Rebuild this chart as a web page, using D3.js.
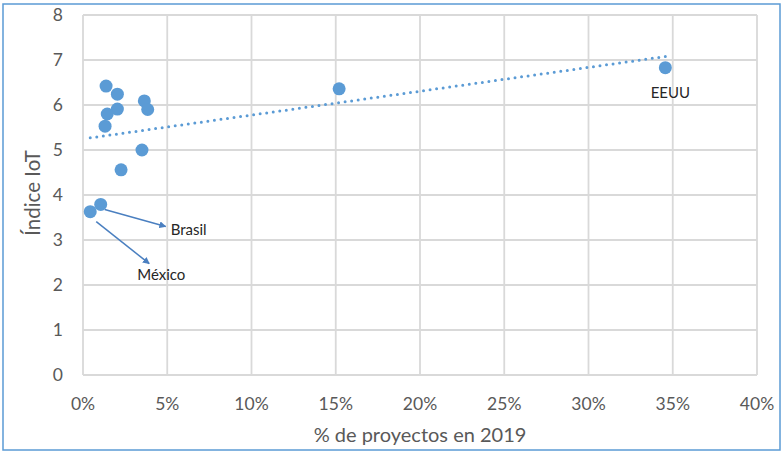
<!DOCTYPE html>
<html>
<head>
<meta charset="utf-8">
<script src="https://d3js.org/d3.v7.min.js"></script>
<style>
  body { margin: 0; background: #fff; }
  text { font-family: Lato, "Liberation Sans", sans-serif; }
</style>
</head>
<body>
<script>
// data
var names   = ["", "", "", "", "", "", "", "", "", "Brasil", "México", "", "EEUU"];
var pctProj = [1.37, 2.04, 3.64, 3.84, 2.04, 1.44, 1.31, 3.50, 2.26, 1.05, 0.43, 15.2, 34.56];
var iotIdx  = [6.42, 6.24, 6.09, 5.90, 5.91, 5.80, 5.53, 5.00, 4.56, 3.79, 3.63, 6.36, 6.83];
var xTicks  = [0, 5, 10, 15, 20, 25, 30, 35, 40];
var yTicks  = [0, 1, 2, 3, 4, 5, 6, 7, 8];

// label placement (pixel offsets from the point)
var labelStyle = {
  "Brasil": { arrow: [4, 5, 65, 22], text: [70, 31] },
  "México": { arrow: [6, 10, 59, 52], text: [47, 68] },
  "EEUU":   { arrow: null, text: [5, 30], anchor: "middle" }
};

var W = 784, H = 452;
var blue = "#5b9bd5", grid = "#d9d9d9", ink = "#595959";

var svg = d3.select("body").append("svg")
    .attr("width", W)
    .attr("height", H);

svg.append("defs").append("marker")
    .attr("id", "arr")
    .attr("viewBox", "0 0 10 10")
    .attr("refX", 9).attr("refY", 5)
    .attr("markerWidth", 7).attr("markerHeight", 7)
    .attr("markerUnits", "userSpaceOnUse")
    .attr("orient", "auto")
    .append("path")
    .attr("d", "M0,0 L10,5 L0,10 z")
    .attr("fill", "#4a7fc0");

// outer frame
svg.append("rect")
    .attr("x", 3).attr("y", 4)
    .attr("width", 777).attr("height", 446)
    .attr("fill", "none")
    .attr("stroke", blue)
    .attr("stroke-width", 1.5);

var x = d3.scaleLinear().domain([0, 40]).range([83, 757]);
var y = d3.scaleLinear().domain([0, 8]).range([375, 15]);

var data = pctProj.map(function(v, i) {
    return { name: names[i], x: v, y: iotIdx[i] };
});

// gridlines
svg.append("g").selectAll("line.v")
    .data(xTicks).enter().append("line")
    .attr("x1", d => x(d)).attr("x2", d => x(d))
    .attr("y1", y(0)).attr("y2", y(8))
    .attr("stroke", grid).attr("stroke-width", 1.8);

svg.append("g").selectAll("line.h")
    .data(yTicks).enter().append("line")
    .attr("x1", x(0)).attr("x2", x(40))
    .attr("y1", d => y(d)).attr("y2", d => y(d))
    .attr("stroke", grid).attr("stroke-width", 1.8);

// tick labels
svg.append("g").selectAll("text")
    .data(xTicks).enter().append("text")
    .attr("x", d => x(d))
    .attr("y", 404)
    .attr("dy", "0.35em")
    .attr("text-anchor", "middle")
    .attr("fill", ink)
    .style("font-size", "17.5px")
    .text(d => d + "%");

svg.append("g").selectAll("text")
    .data(yTicks).enter().append("text")
    .attr("x", 63)
    .attr("y", d => y(d))
    .attr("dy", "0.35em")
    .attr("text-anchor", "end")
    .attr("fill", ink)
    .style("font-size", "17.5px")
    .text(d => d);

// axis titles
svg.append("text")
    .attr("x", 420).attr("y", 435)
    .attr("dy", "0.35em")
    .attr("text-anchor", "middle")
    .attr("fill", ink)
    .style("font-size", "20px")
    .text("% de proyectos en 2019");

svg.append("text")
    .attr("transform", "translate(33,193) rotate(-90)")
    .attr("dy", "0.35em")
    .attr("text-anchor", "middle")
    .attr("fill", ink)
    .style("font-size", "20.5px")
    .text("Índice IoT");

// linear trendline (least squares)
var mx = d3.mean(data, d => d.x), my = d3.mean(data, d => d.y);
var sxy = d3.sum(data, d => (d.x - mx) * (d.y - my));
var sxx = d3.sum(data, d => (d.x - mx) * (d.x - mx));
var slope = sxy / sxx, icpt = my - slope * mx;
var ext = d3.extent(data, d => d.x);

svg.append("line")
    .attr("x1", x(ext[0])).attr("y1", y(icpt + slope * ext[0]))
    .attr("x2", x(ext[1])).attr("y2", y(icpt + slope * ext[1]))
    .attr("stroke", blue)
    .attr("stroke-width", 3)
    .attr("stroke-linecap", "round")
    .attr("stroke-dasharray", "0,6.6");

// points
svg.append("g").selectAll("circle")
    .data(data).enter().append("circle")
    .attr("cx", d => x(d.x))
    .attr("cy", d => y(d.y))
    .attr("r", 6.5)
    .attr("fill", blue);

// labels + arrows
var labeled = data.filter(d => d.name !== "");

svg.append("g").selectAll("line")
    .data(labeled.filter(d => labelStyle[d.name].arrow)).enter().append("line")
    .attr("x1", d => x(d.x) + labelStyle[d.name].arrow[0])
    .attr("y1", d => y(d.y) + labelStyle[d.name].arrow[1])
    .attr("x2", d => x(d.x) + labelStyle[d.name].arrow[2])
    .attr("y2", d => y(d.y) + labelStyle[d.name].arrow[3])
    .attr("stroke", "#4a7fc0")
    .attr("stroke-width", 1.5)
    .attr("marker-end", "url(#arr)");

svg.append("g").selectAll("text")
    .data(labeled).enter().append("text")
    .attr("x", d => x(d.x) + labelStyle[d.name].text[0])
    .attr("y", d => y(d.y) + labelStyle[d.name].text[1])
    .attr("text-anchor", d => labelStyle[d.name].anchor || "start")
    .attr("fill", "#262626")
    .style("font-size", "15px")
    .text(d => d.name);
</script>
</body>
</html>
